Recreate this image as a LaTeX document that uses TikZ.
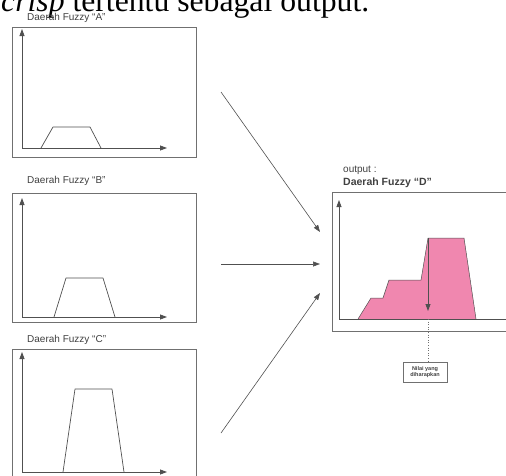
\documentclass[tikz,border=0pt]{standalone}
\usepackage{fontspec}
\setmainfont{Liberation Serif}
\setsansfont{Liberation Sans}
\newfontfamily\titlefont{Liberation Serif}
\usetikzlibrary{arrows.meta}
\definecolor{boxgray}{HTML}{707070}
\definecolor{axisgray}{HTML}{505050}
\definecolor{txtgray}{HTML}{404040}
\definecolor{pinkfill}{HTML}{F087AF}
\tikzset{
  panel/.style={draw=boxgray, line width=0.8pt, inner sep=0pt, outer sep=0pt},
  axis/.style={draw=axisgray, line width=0.8pt, -{Triangle[length=7pt,width=5pt]}},
  trap/.style={draw=axisgray, line width=0.7pt, line join=round},
  flow/.style={draw=axisgray, line width=0.6pt, -{Triangle[length=7pt,width=5pt]}},
  lbl/.style={font=\sffamily\fontsize{10}{12}\selectfont, text=txtgray, inner sep=0pt, anchor=base west},
}
\begin{document}
\begin{tikzpicture}[x=1pt,y=-1pt]
\useasboundingbox (0,0) rectangle (506,475);
\clip (0,0) rectangle (506,475);
% cut-off page text
\node[anchor=base west, inner sep=0pt] (title) at (1,11)
  {\resizebox{368pt}{!}{\titlefont\fontsize{31}{31}\selectfont\textit{crisp} tertentu sebagai output.}};

% panel A
\node[lbl] (labA) at (27,20) {Daerah Fuzzy “A”};
\node[panel, minimum width=184pt, minimum height=130pt] (boxA) at (104,92) {};
\draw[axis] (22,148) -- (22,29);
\draw[axis] (22,148) -- (167,148);
\draw[trap] (41,148) -- (53,127) -- (90,127) -- (101,148);

% panel B
\node[lbl] (labB) at (27,183) {Daerah Fuzzy “B”};
\node[panel, minimum width=184pt, minimum height=129pt] (boxB) at (104,257.5) {};
\draw[axis] (22,317) -- (22,198);
\draw[axis] (22,317) -- (167,317);
\draw[trap] (54,317) -- (66,278) -- (103,278) -- (115,317);

% panel C
\node[lbl] (labC) at (27,342) {Daerah Fuzzy “C”};
\node[panel, minimum width=184pt, minimum height=130pt] (boxC) at (104,414) {};
\draw[axis] (22,472) -- (22,352);
\draw[axis] (22,472) -- (167,472);
\draw[trap] (63,472) -- (75,389) -- (112,389) -- (124,472);

% output panel
\node[lbl] (labO) at (343,172.7) {output :};
\node[lbl, font=\sffamily\bfseries\fontsize{10.5}{12}\selectfont] (labD) at (343,185.5) {Daerah Fuzzy “D”};
\node[panel, minimum width=190pt, minimum height=139pt] (boxO) at (427,261.5) {};
\fill[pinkfill] (358,319) -- (371,298) -- (383,298) -- (389,280) -- (421,280) -- (428,238) -- (464,238) -- (476,319) -- cycle;
\draw[trap, line width=0.5pt] (358,319) -- (371,298) -- (383,298) -- (389,280) -- (421,280) -- (428,238) -- (464,238) -- (476,319);
\draw[axis] (339,319) -- (339,200);
\draw[axis] (339,319) -- (530,319);
\coordinate (peak) at (428,238);
\coordinate (hit) at (428,311);
\draw[flow, line width=0.8pt] (peak) -- (hit);

% result label
\node[draw=boxgray, line width=0.6pt, inner sep=1pt, align=center, text=txtgray,
      font=\sffamily\bfseries\fontsize{5.5}{6.5}\selectfont,
      minimum width=44pt, minimum height=20pt] (nilai) at (425,372) {Nilai yang\\diharapkan};
\coordinate (foot) at (428,319);
\draw[boxgray, line width=0.6pt, dotted] (foot) -- (foot |- nilai.north);

% flow arrows
\coordinate (a1s) at (221,92);
\coordinate (a1e) at (320,232);
\coordinate (a2s) at (221,264);
\coordinate (a2e) at (320,264);
\coordinate (a3s) at (221,433);
\coordinate (a3e) at (320,293);
\draw[flow] (a1s) -- (a1e);
\draw[flow] (a2s) -- (a2e);
\draw[flow] (a3s) -- (a3e);
\end{tikzpicture}
\end{document}
